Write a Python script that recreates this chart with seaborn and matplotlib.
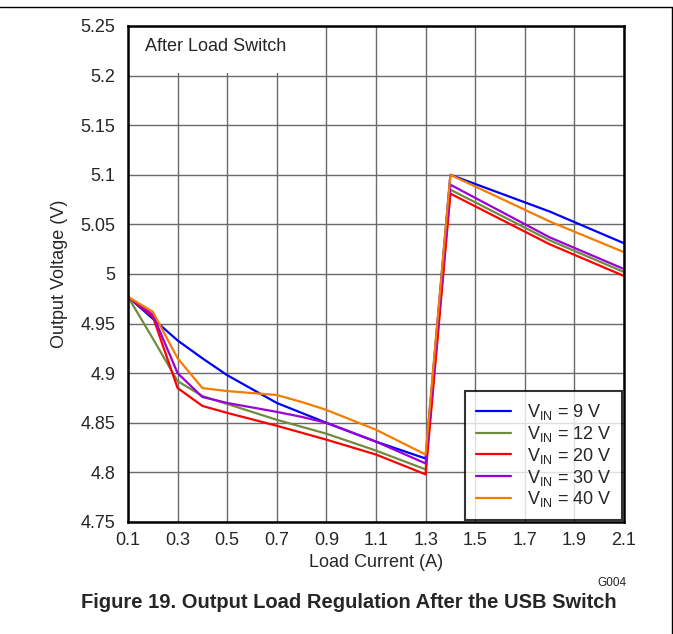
import matplotlib

matplotlib.use("Agg")
import matplotlib.pyplot as plt  # noqa: E402
import pandas as pd  # noqa: E402
import seaborn as sns  # noqa: E402
from matplotlib.lines import Line2D  # noqa: E402
from matplotlib.patches import Rectangle  # noqa: E402

# load current (A) and output voltage (V) per input voltage
current = [0.1, 0.2, 0.3, 0.4, 0.5, 0.7, 0.8, 0.9, 1.1, 1.3, 1.4, 1.8, 2.1]
v_9 = [4.977, 4.955, 4.933, 4.915, 4.898, 4.870, 4.860, 4.850, 4.831, 4.814, 5.100, 5.063, 5.031]
v_12 = [4.977, 4.935, 4.892, 4.877, 4.869, 4.853, 4.846, 4.839, 4.822, 4.803, 5.085, 5.034, 5.002]
v_20 = [4.977, 4.957, 4.885, 4.867, 4.860, 4.847, 4.840, 4.833, 4.818, 4.798, 5.081, 5.030, 4.998]
v_30 = [4.977, 4.959, 4.900, 4.876, 4.870, 4.861, 4.856, 4.850, 4.831, 4.809, 5.090, 5.037, 5.005]
v_40 = [4.977, 4.962, 4.915, 4.885, 4.882, 4.878, 4.871, 4.863, 4.843, 4.818, 5.100, 5.053, 5.022]

series_labels = [
    r"V$_{\mathrm{IN}}$ = 9 V",
    r"V$_{\mathrm{IN}}$ = 12 V",
    r"V$_{\mathrm{IN}}$ = 20 V",
    r"V$_{\mathrm{IN}}$ = 30 V",
    r"V$_{\mathrm{IN}}$ = 40 V",
]
series_colors = ["#0000ff", "#6f8c3e", "#ff0000", "#9b00d6", "#f57c00"]
x_ticks = [0.1, 0.3, 0.5, 0.7, 0.9, 1.1, 1.3, 1.5, 1.7, 1.9, 2.1]
y_ticks = [4.75, 4.8, 4.85, 4.9, 4.95, 5.0, 5.05, 5.1, 5.15, 5.2, 5.25]

frames = []
for label, values in zip(series_labels, [v_9, v_12, v_20, v_30, v_40]):
    frames.append(pd.DataFrame({"current": current, "voltage": values, "vin": label}))
data = pd.concat(frames, ignore_index=True)

sns.set_style("white")
plt.rcParams["font.family"] = ["Liberation Sans", "DejaVu Sans"]
plt.rcParams["mathtext.fontset"] = "custom"
plt.rcParams["mathtext.rm"] = "Liberation Sans"

figure = plt.figure(figsize=(6.73, 6.34), dpi=100)
axis = figure.add_axes([128 / 673, 112 / 634, 496 / 673, 496 / 634])

sns.lineplot(
    data=data,
    x="current",
    y="voltage",
    hue="vin",
    palette=dict(zip(series_labels, series_colors)),
    linewidth=1.6,
    ax=axis,
    zorder=3,
)

axis.set_xlim(0.1, 2.1)
axis.set_ylim(4.75, 5.25)
axis.set_xticks(x_ticks)
axis.set_xticklabels([f"{t:g}" for t in x_ticks])
axis.set_yticks(y_ticks)
axis.set_yticklabels([f"{t:g}" for t in y_ticks])
axis.tick_params(axis="x", labelsize=13, length=0, pad=7)
axis.tick_params(axis="y", labelsize=13, length=0, pad=9)
axis.grid(True, color="#6a6a6a", linewidth=1.0)
axis.set_axisbelow(True)
for spine in axis.spines.values():
    spine.set_color("black")
    spine.set_linewidth(1.8)
    spine.set_zorder(5)

axis.set_xlabel("Load Current (A)", fontsize=13, labelpad=4)
axis.set_ylabel("Output Voltage (V)", fontsize=13, labelpad=9)

# white box behind the annotation hides the grid there
axis.add_patch(
    Rectangle((0, 0.905), 0.397, 0.095, transform=axis.transAxes,
              facecolor="white", edgecolor="none", zorder=2)
)
axis.text(0.034, 0.958, "After Load Switch", transform=axis.transAxes,
          fontsize=13, va="center", ha="left", zorder=4)

legend = axis.legend(
    loc="lower right",
    fontsize=13,
    frameon=True,
    fancybox=False,
    borderaxespad=0.1,
    handlelength=1.95,
    labelspacing=0.1,
    borderpad=0.6,
    handletextpad=0.85,
)
legend.get_frame().set_edgecolor("black")
legend.get_frame().set_linewidth(1.5)
legend.set_zorder(6)

figure.text(612 / 673, 1 - 583 / 634, "G004", fontsize=8.5, ha="center", va="center")
figure.text(349 / 673, 1 - 602 / 634, "Figure 19. Output Load Regulation After the USB Switch",
            fontsize=14.5, fontweight="bold", ha="center", va="center")

# page frame (top and right)
figure.add_artist(Line2D([0, 671.5 / 673], [1 - 7 / 634, 1 - 7 / 634],
                         transform=figure.transFigure, color="black", linewidth=1))
figure.add_artist(Line2D([671.5 / 673, 671.5 / 673], [0, 1 - 7 / 634],
                         transform=figure.transFigure, color="black", linewidth=1))

figure.savefig("out.png", dpi=100)
plt.close(figure)
